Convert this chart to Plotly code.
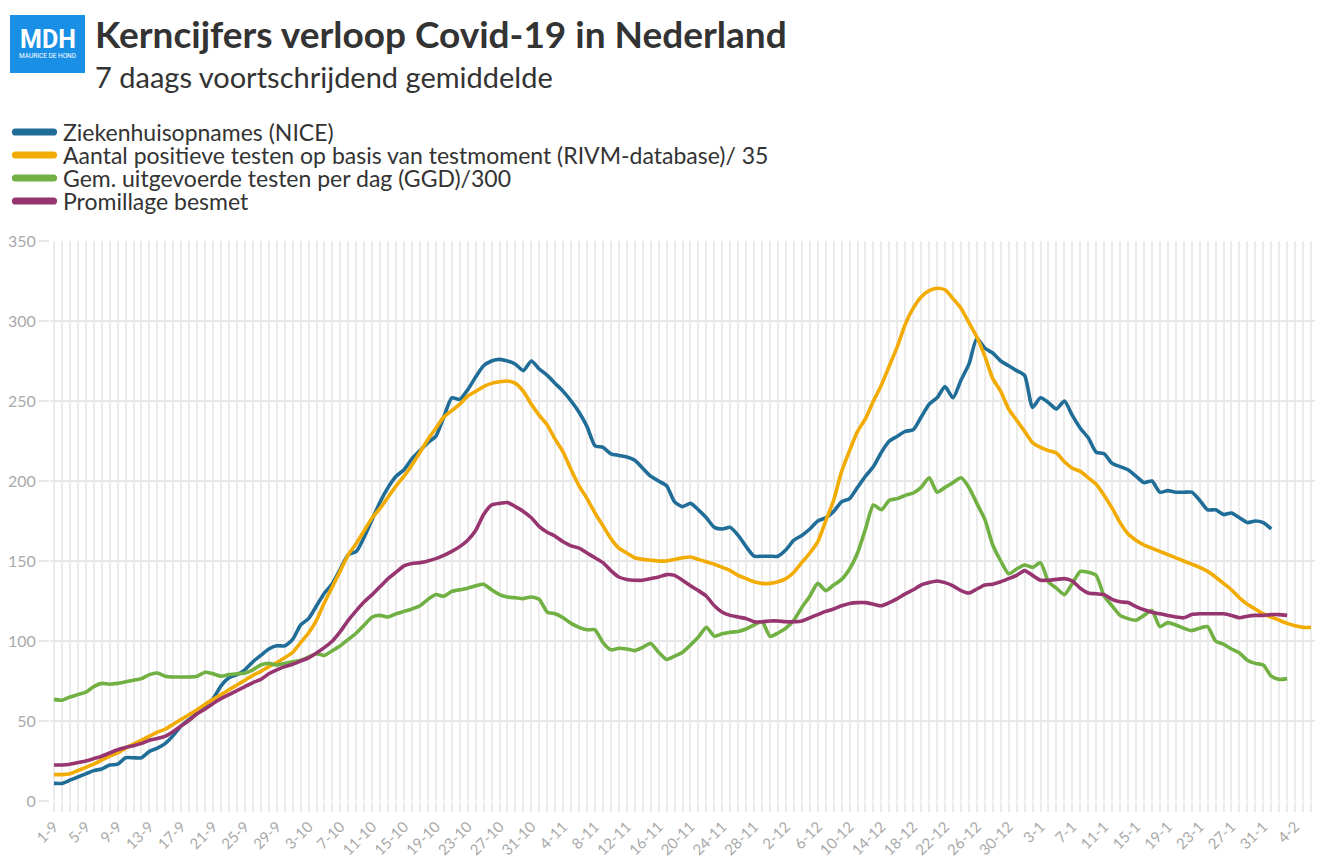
import plotly.graph_objects as go
import pandas as pd

# ---------------- data ----------------
START = "2020-09-01"
N_DAYS = 159

SERIES_NAMES = [
    "Ziekenhuisopnames (NICE)",
    "Aantal positieve testen op basis van testmoment (RIVM-database)/ 35",
    "Gem. uitgevoerde testen per dag (GGD)/300",
    "Promillage besmet",
]
SERIES_COLORS = ["#206d98", "#f2ab00", "#71b043", "#973570"]

ziekenhuis = [
    11, 11, 13, 15, 17, 19, 20, 22.5, 23, 27,
    27, 27, 31, 33, 36, 41, 47, 51, 55, 60,
    64, 72, 77, 79, 82, 87, 91, 95, 97, 97,
    101, 110, 114, 122, 130, 136, 145, 154, 156, 165,
    176, 187, 196, 203, 207, 214, 219, 224, 228, 240,
    252, 251, 257, 265, 272, 275, 276, 275, 273, 269,
    275, 270, 266, 261, 256, 250, 243, 234, 222, 221,
    217, 216, 215, 213, 208, 203, 200, 197, 187, 184,
    186, 182, 177, 171, 170, 171, 166, 159, 153, 153,
    153, 153, 157, 163, 166, 170, 175, 177, 181, 187,
    189, 196, 203, 209, 218, 225, 228, 231, 232, 240,
    248, 252, 259, 252, 263, 273, 289, 283, 280, 275,
    272, 269, 266, 246, 252, 249, 245, 250, 241, 233,
    227, 218, 217, 211, 209, 207, 203, 199, 200, 193,
    194, 193, 193, 193, 188, 182, 182, 179, 180, 177,
    174, 175, 174, 170,
]

positief = [
    16.5, 16.5, 17, 19, 21, 23, 25.5, 28, 30, 33,
    35.5, 38, 40.5, 43, 45, 48, 51, 54, 57, 60.5,
    63.5, 66.5, 69.5, 72.5, 75.5, 78.5, 81, 84, 86.5, 89.5,
    93, 99, 105, 113, 124, 134, 144, 154, 161, 169,
    177, 183, 190, 197, 203, 210, 218, 226, 233, 240,
    244, 248, 253, 256, 259, 261, 262, 262.5, 261, 256,
    248, 241, 235, 226, 218, 207, 197, 189, 180, 172,
    164, 158, 155, 152, 151, 150.5, 150, 150, 151, 152,
    152.5, 151, 149.5, 148, 146, 144, 141, 139, 137, 136,
    136, 137, 139, 143, 149, 155, 162, 175, 188, 206,
    219, 231, 239, 250, 260, 272, 284, 298, 308, 315,
    319, 320.5, 319.5, 314, 308, 299, 290, 278, 264, 256,
    245, 238, 231, 224, 221, 219, 217.5, 212, 208, 206,
    202, 198, 191, 183, 174, 167, 163, 160, 158, 156,
    154, 152, 150, 148, 146, 143.5, 140, 136, 132, 127,
    123, 120, 117, 115, 113, 111, 109.5, 108.5, 108.5,
]

testen = [
    63.5, 63, 65, 66.5, 68, 71.5, 73.5, 73, 73.5, 74.5,
    75.5, 76.5, 79, 80, 78, 77.5, 77.5, 77.5, 78, 80.5,
    79.5, 78, 79, 79.5, 80, 82, 85, 86, 85, 86,
    87, 88, 90, 92, 91, 94, 97, 101, 105, 110,
    115, 116, 115, 117, 118.5, 120, 122, 126, 129, 128,
    131, 132, 133, 134.5, 135.5, 132, 129, 127.5, 127, 126.5,
    127.5, 126, 118, 117, 114.5, 111, 108.5, 107, 107, 99,
    94.5, 95.5, 95, 94, 96, 98.5, 93, 88.5, 90.5, 93,
    97.5, 102.5, 108.5, 103, 104.5, 105.5, 106, 107.5, 110, 112,
    103, 105, 108, 113, 121, 128, 136, 131.5, 135, 138.5,
    145, 155, 170, 185, 182, 188, 189, 191, 192.5, 196,
    202, 193, 196, 199, 202, 196, 186, 176, 160, 150,
    142, 145, 147.5, 146, 149, 137, 133, 129, 136, 143.5,
    143, 141, 128, 122, 116, 114, 113, 116, 119, 109,
    111.5, 110, 108, 106.5, 108, 109, 100, 98, 95, 92.5,
    88, 86, 85, 78, 76, 76.5,
]

promillage = [
    22.5, 22.5, 23, 24, 25, 26.5, 28, 30, 32, 33.5,
    34.5, 36, 38, 39, 40.5, 43.5, 47, 50.5, 54.5, 57.5,
    61, 64, 66.5, 69, 71.5, 74, 76, 79.5, 82, 84,
    85.5, 87.5, 89.5, 92.5, 96, 100, 106, 113, 119, 124.5,
    129, 134, 139, 143, 147, 148.5, 149, 150, 151.5, 153.5,
    156, 159, 163, 169, 179, 185, 186, 186.5, 184, 181,
    177, 171.5, 168, 165.5, 162, 159.5, 158, 155, 152, 149,
    144, 140, 138.5, 138, 138, 139, 140, 141.5, 141, 138,
    134.5, 131.5, 128, 122, 118, 116, 115, 114, 112, 112,
    112.5, 112.5, 112, 112, 112.5, 114.5, 116.5, 118.5, 120, 122,
    123.5, 124, 124, 123, 122, 124, 126.5, 129.5, 132, 135,
    136.5, 137.5, 136.5, 134.5, 131.5, 130, 132.5, 135, 135.5, 137,
    139, 141, 144, 141, 138, 138, 138.5, 139, 137.5, 133,
    130, 129.5, 129, 126, 124.5, 124, 121.5, 119.5, 118, 117,
    116, 115, 114.5, 116.5, 117, 117, 117, 117, 116, 114.5,
    115.5, 116, 116, 116.5, 116.5, 116,
]

TICK_LABELS = [
    "1-9", "5-9", "9-9", "13-9", "17-9", "21-9", "25-9", "29-9",
    "3-10", "7-10", "11-10", "15-10", "19-10", "23-10", "27-10", "31-10",
    "4-11", "8-11", "12-11", "16-11", "20-11", "24-11", "28-11",
    "2-12", "6-12", "10-12", "14-12", "18-12", "22-12", "26-12", "30-12",
    "3-1", "7-1", "11-1", "15-1", "19-1", "23-1", "27-1", "31-1", "4-2",
]

Y_TICKS = [0, 50, 100, 150, 200, 250, 300, 350]

# ---------------- figure ----------------
dates = pd.date_range(START, periods=N_DAYS, freq="D")
tick_dates = list(dates[::4][: len(TICK_LABELS)])
all_series = [ziekenhuis, positief, testen, promillage]

FONT = "Lato"
GRID = "#ebebeb"
W, H = 1331, 856
ML, MR, MT, MB = 50, 16, 241, 55
PW, PH = W - ML - MR, H - MT - MB


def px(x):
    return (x - ML) / PW


def py(y):
    return (H - MB - y) / PH


fig = go.Figure()
for name, vals, col in zip(SERIES_NAMES, all_series, SERIES_COLORS):
    fig.add_trace(
        go.Scatter(
            x=dates[: len(vals)],
            y=vals,
            name=name,
            mode="lines",
            line=dict(color=col, width=3.6, shape="spline", smoothing=0.6),
            hoverinfo="x+y+name",
        )
    )

shapes = []
annotations = []

# logo
shapes.append(dict(type="rect", xref="paper", yref="paper",
                   x0=px(10), x1=px(85), y0=py(73), y1=py(15),
                   fillcolor="#1a8fe6", line=dict(width=0)))
annotations.append(dict(xref="paper", yref="paper", x=px(47.5), y=py(40),
                        text="<b>MDH</b>", showarrow=False, xanchor="center",
                        yanchor="middle", borderpad=0,
                        font=dict(family="Roboto", size=25, color="white")))
annotations.append(dict(xref="paper", yref="paper", x=px(47.5), y=py(56),
                        text="MAURICE DE HOND", showarrow=False,
                        xanchor="center", yanchor="middle", borderpad=0,
                        font=dict(family="Roboto", size=6.5, color="white")))

# title + subtitle
annotations.append(dict(xref="paper", yref="paper", x=px(94), y=py(33),
                        text="<b>Kerncijfers verloop Covid-19 in Nederland</b>",
                        showarrow=False, xanchor="left", yanchor="middle",
                        borderpad=0,
                        font=dict(family=FONT, size=37, color="#333333")))
annotations.append(dict(xref="paper", yref="paper", x=px(94), y=py(77),
                        text="7 daags voortschrijdend gemiddelde",
                        showarrow=False, xanchor="left", yanchor="middle",
                        borderpad=0,
                        font=dict(family=FONT, size=29, color="#333333")))

# custom legend with rounded swatches
rows = [132, 155, 178, 201]
for yc, name, col in zip(rows, SERIES_NAMES, SERIES_COLORS):
    x1, x2, r = 15.5, 53.5, 3.6
    pts = [
        ("M", x1, yc - r), ("L", x2, yc - r),
        ("Q", x2 + r, yc - r, x2 + r, yc), ("Q", x2 + r, yc + r, x2, yc + r),
        ("L", x1, yc + r),
        ("Q", x1 - r, yc + r, x1 - r, yc), ("Q", x1 - r, yc - r, x1, yc - r),
    ]
    path = ""
    for p in pts:
        cmd, coords = p[0], p[1:]
        cs = []
        for i in range(0, len(coords), 2):
            cs.append(f"{px(coords[i]):.6f},{py(coords[i+1]):.6f}")
        path += cmd + " ".join(cs) + " "
    path += "Z"
    shapes.append(dict(type="path", xref="paper", yref="paper", path=path,
                       fillcolor=col, line=dict(width=0)))
    annotations.append(dict(xref="paper", yref="paper", x=px(62), y=py(yc),
                            text=name, showarrow=False, xanchor="left",
                            yanchor="middle", borderpad=0,
                            font=dict(family=FONT, size=23, color="#333333")))

fig.update_layout(
    width=W, height=H,
    margin=dict(l=ML, r=MR, t=MT, b=MB, autoexpand=False),
    paper_bgcolor="white", plot_bgcolor="white",
    showlegend=False,
    shapes=shapes, annotations=annotations,
    font=dict(family=FONT),
    xaxis=dict(
        type="date", automargin=False,
        range=[dates[0] - pd.Timedelta(hours=12), dates[-1] + pd.Timedelta(hours=12)],
        tickmode="array", tickvals=tick_dates, ticktext=TICK_LABELS,
        tickangle=-45, tickfont=dict(family=FONT, size=15, color="#a9a9a9"),
        showgrid=True, gridcolor=GRID, gridwidth=2,
        ticks="outside", ticklen=10, tickcolor=GRID, tickwidth=2,
        minor=dict(tickmode="linear", tick0=START, dtick=86400000,
                   showgrid=True, gridcolor=GRID, gridwidth=2,
                   ticks="outside", ticklen=10, tickcolor=GRID, tickwidth=2),
        zeroline=False, showline=False, fixedrange=True,
    ),
    yaxis=dict(
        range=[0, 350], tickmode="array", tickvals=Y_TICKS, automargin=False,
        tickfont=dict(family=FONT, size=16, color="#a9a9a9"),
        showgrid=True, gridcolor="#e8e8e8", gridwidth=2,
        ticks="outside", ticklen=10, tickcolor="#e8e8e8", tickwidth=2,
        zeroline=False, showline=False, fixedrange=True,
    ),
)

fig.write_html(
    "out.html",
    config={"displayModeBar": False},
    post_script="document.body.style.margin='0';document.body.style.overflow='hidden';",
)
